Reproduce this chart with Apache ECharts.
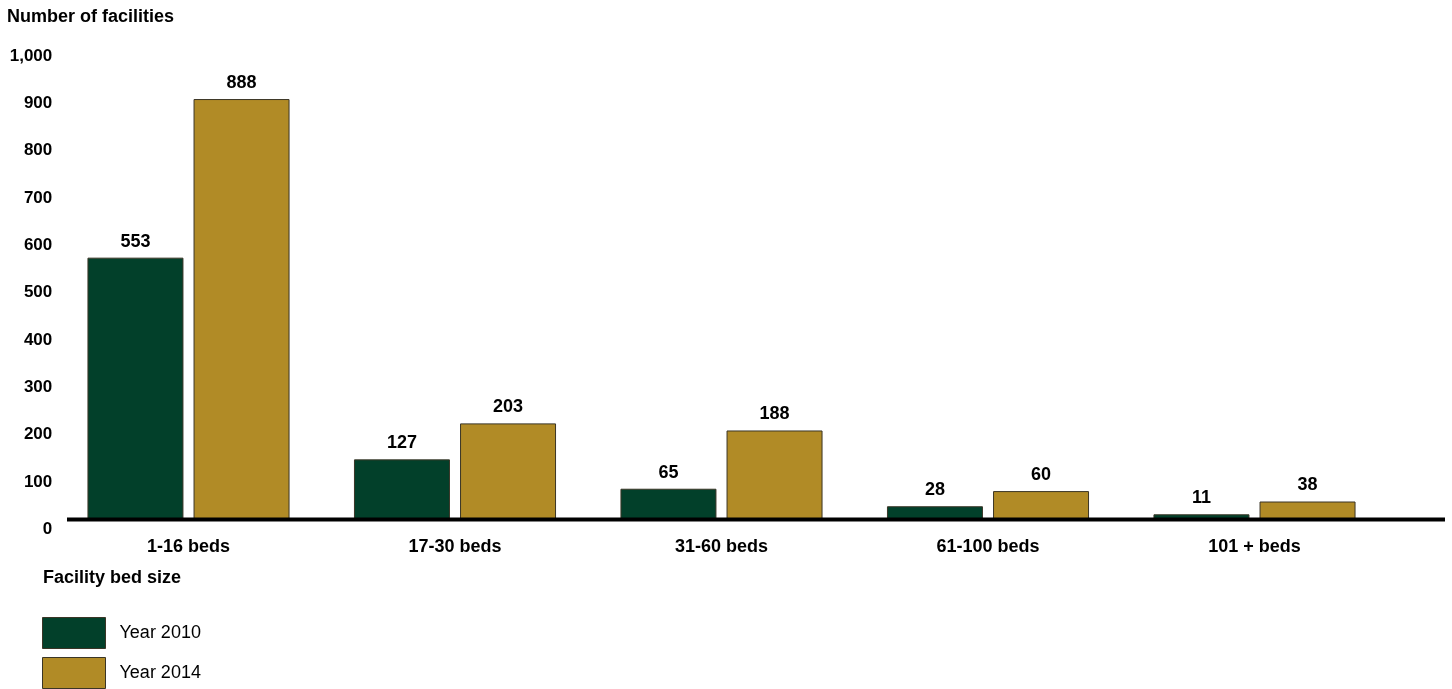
<!DOCTYPE html>
<html>
<head>
<meta charset="utf-8">
<script src="https://cdn.jsdelivr.net/npm/echarts@6/dist/echarts.min.js"></script>
<style>
  html, body { margin: 0; padding: 0; background: #ffffff; }
  #chart { width: 1452px; height: 689px; }
</style>
</head>
<body>
<div id="chart"></div>
<script>
// Facilities by bed size, 2010 vs 2014
const categories = ['1-16 beds', '17-30 beds', '31-60 beds', '61-100 beds', '101 + beds'];
const year2010 = [553, 127, 65, 28, 11];
const year2014 = [888, 203, 188, 60, 38];
const seriesNames = ['Year 2010', 'Year 2014'];
const yTicks = { min: 0, max: 1000, interval: 100 };

const GREEN = '#02402a';
const GOLD = '#b18b26';
const EDGE = '#3a3526';
const FONT = 'Liberation Sans, Arial, Helvetica, sans-serif';

const chart = echarts.init(document.getElementById('chart'), null, { renderer: 'canvas' });

const barLabel = {
  show: true,
  position: 'top',
  distance: 7,
  color: '#000',
  fontFamily: FONT,
  fontWeight: 'bold',
  fontSize: 18
};

// One legend block per series, stacked below the axis title
const legendBase = {
  orient: 'vertical',
  left: 42,
  padding: 0,
  itemWidth: 63, itemHeight: 31,
  icon: 'rect',
  itemStyle: { borderColor: EDGE, borderWidth: 1 },
  textStyle: { fontFamily: FONT, fontSize: 18, color: '#000', padding: [0, 0, 0, 9] }
};

chart.setOption({
  animation: false,
  backgroundColor: '#ffffff',
  textStyle: { fontFamily: FONT },
  title: [
    {
      text: 'Number of facilities',
      left: 2, top: 3,
      textStyle: { fontFamily: FONT, fontWeight: 'bold', fontSize: 18, color: '#000' }
    },
    {
      text: 'Facility bed size',
      left: 38, top: 564,
      textStyle: { fontFamily: FONT, fontWeight: 'bold', fontSize: 18, color: '#000' }
    }
  ],
  legend: [
    Object.assign({}, legendBase, { top: 617, data: [seriesNames[0]] }),
    Object.assign({}, legendBase, { top: 657, data: [seriesNames[1]] })
  ],
  grid: { left: 55.25, right: 64.25, top: 46, bottom: 169.5, containLabel: false },
  xAxis: {
    type: 'category',
    data: categories,
    axisLine: { show: false },
    axisTick: { show: false },
    axisLabel: {
      margin: 19,
      color: '#000',
      fontFamily: FONT, fontWeight: 'bold', fontSize: 18
    }
  },
  yAxis: {
    type: 'value',
    min: yTicks.min, max: yTicks.max, interval: yTicks.interval,
    axisLine: { show: false },
    axisTick: { show: false },
    splitLine: { show: false },
    axisLabel: {
      margin: 3,
      color: '#000',
      fontFamily: FONT, fontWeight: 'bold', fontSize: 17,
      verticalAlign: 'top',
      lineHeight: 20,
      formatter: v => v.toLocaleString('en-US')
    }
  },
  series: [
    {
      name: seriesNames[0],
      type: 'bar',
      data: year2010,
      barWidth: 96,
      barGap: '10.5%',
      itemStyle: { color: GREEN, borderColor: EDGE, borderWidth: 1 },
      label: barLabel
    },
    {
      name: seriesNames[1],
      type: 'bar',
      data: year2014,
      barWidth: 96,
      barGap: '10.5%',
      itemStyle: { color: GOLD, borderColor: EDGE, borderWidth: 1 },
      label: barLabel
    }
  ]
});

// Heavy baseline under the bars, spanning the full plot width
const baseY = chart.convertToPixel({ yAxisIndex: 0 }, 0);
chart.setOption({
  graphic: [{
    type: 'line',
    z: 100,
    shape: { x1: 67, y1: baseY, x2: 1445, y2: baseY },
    style: { stroke: '#000', lineWidth: 4 }
  }]
});
</script>
</body>
</html>
